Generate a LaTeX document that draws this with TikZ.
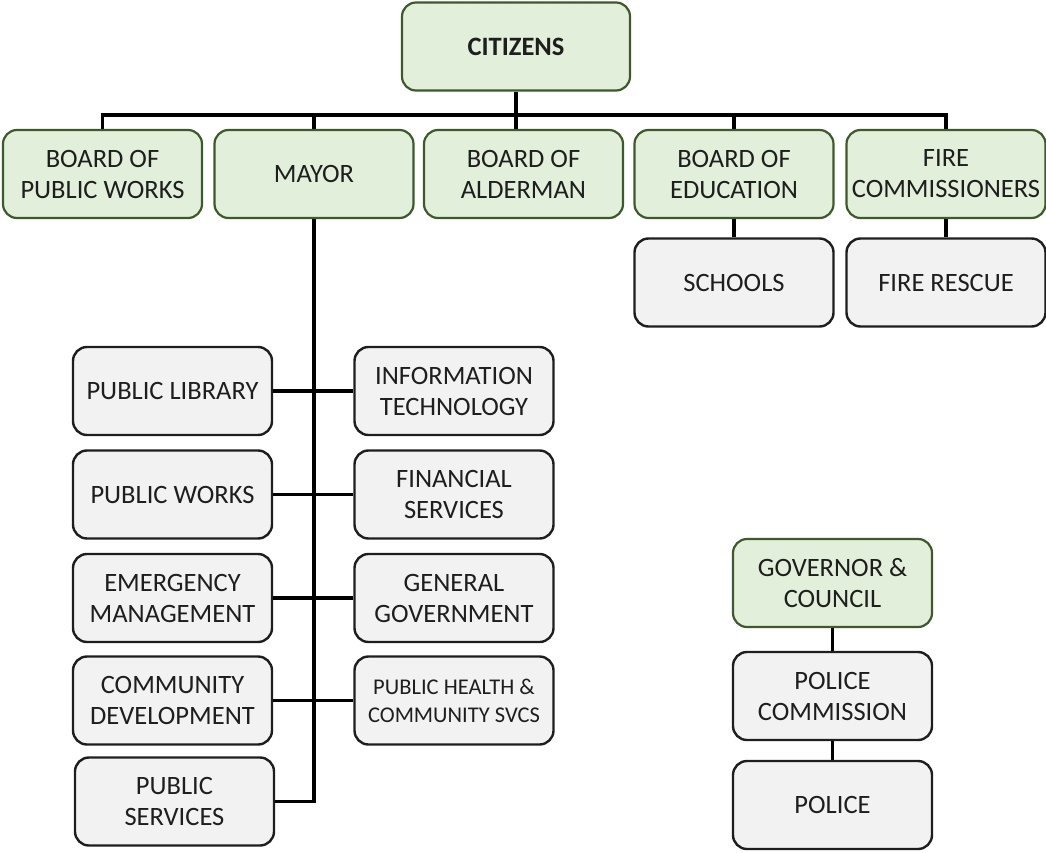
\documentclass[tikz,border=0pt]{standalone}
\usepackage{fontspec}
\setmainfont{Carlito}
\usepackage{tikz}
\usetikzlibrary{positioning,calc}
\definecolor{ocGreen}{HTML}{E2EFDA}
\definecolor{ocGreenLine}{HTML}{3D5A2A}
\definecolor{ocGrey}{HTML}{F2F2F2}
\definecolor{ocInk}{HTML}{1E1E1E}

\begin{document}
\begin{tikzpicture}[x=1pt,y=-1pt,
  font=\fontsize{26.5}{31}\selectfont,
  unit/.style={draw,rounded corners=14pt,align=center,minimum width=199pt,minimum height=88pt,inner sep=2pt,text=ocInk},
  board/.style={unit,fill=ocGreen,draw=ocGreenLine,line width=2.2pt},
  dept/.style={unit,fill=ocGrey,draw=ocInk,line width=2.4pt},
  link/.style={draw=black,line width=3.2pt}]
\useasboundingbox (0,0) rectangle (1046,853);
% top level
\node[board,minimum width=228pt,font=\fontsize{26.5}{31}\selectfont\bfseries] (citizens) at (516,46.5) {CITIZENS};
\node[board] (bpw) at (102.5,174) {BOARD OF\\PUBLIC WORKS};
\node[board] (mayor) at (314,174) {MAYOR};
\node[board] (alder) at (523.5,174) {BOARD OF\\ALDERMAN};
\node[board] (educ) at (734,174) {BOARD OF\\EDUCATION};
\node[board] (firec) at (946,174) {FIRE\\COMMISSIONERS};
\node[dept] (schools) at (734,282.5) {SCHOOLS};
\node[dept] (rescue) at (946,282.5) {FIRE RESCUE};
% mayor's departments
\node[dept] (library) at (172.5,391) {PUBLIC LIBRARY};
\node[dept] (infotech) at (454,391) {INFORMATION\\TECHNOLOGY};
\node[dept] (pworks) at (172.5,494.5) {PUBLIC WORKS};
\node[dept] (finance) at (454,494.5) {FINANCIAL\\SERVICES};
\node[dept] (emerg) at (172.5,598) {EMERGENCY\\MANAGEMENT};
\node[dept] (govt) at (454,598) {GENERAL\\GOVERNMENT};
\node[dept] (commdev) at (172.5,700.5) {COMMUNITY\\DEVELOPMENT};
\node[dept,font=\fontsize{22.5}{28}\selectfont] (health) at (454,700.5) {PUBLIC HEALTH \&\\COMMUNITY SVCS};
\node[dept] (pubsvc) at (174.5,801.5) {PUBLIC\\SERVICES};
% state side
\node[board] (governor) at (832.5,583) {GOVERNOR \&\\COUNCIL};
\node[dept] (polcom) at (832.5,696) {POLICE\\COMMISSION};
\node[dept] (police) at (832.5,805) {POLICE};
% connectors
\coordinate (bus) at (0,115);
\draw[link] (citizens.south) -- (citizens.south |- alder.north);
\draw[link] (bpw.north) |- (bus -| firec.north) -- (firec.north);
\draw[link] (mayor.north) -- (mayor.north |- bus);
\draw[link] (educ.north) -- (educ.north |- bus);
\draw[link] (mayor.south) |- (pubsvc.east);
\foreach \l/\r in {library/infotech,pworks/finance,emerg/govt,commdev/health}
  \draw[link] (\l.east) -- (\r.west);
\draw[link] (educ) -- (schools);
\draw[link] (firec) -- (rescue);
\draw[link] (governor) -- (polcom);
\draw[link] (polcom) -- (police);
\end{tikzpicture}
\end{document}
